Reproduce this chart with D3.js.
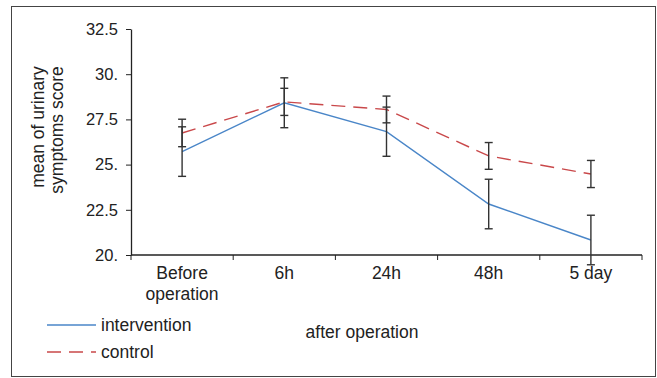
<!DOCTYPE html>
<html>
<head>
<meta charset="utf-8">
<script src="https://cdn.jsdelivr.net/npm/d3@7.9.0/dist/d3.min.js"></script>
<style>
  body { margin: 0; background: #fff; }
  svg { display: block; font-family: "Liberation Sans", Arial, sans-serif; }
</style>
</head>
<body>
<svg id="chart" width="657" height="378"></svg>
<script>
// chart data
const categories = ['Before operation', '6h', '24h', '48h', '5 day'];
const intervention = [25.72, 28.42, 26.82, 22.82, 20.83];
const interventionErr = [1.37, 1.38, 1.36, 1.37, 1.37];
const control = [26.75, 28.47, 28.05, 25.48, 24.48];
const controlErr = [0.76, 0.75, 0.74, 0.74, 0.75];
const yTicks = [20, 22.5, 25, 27.5, 30, 32.5];
const yTickLabels = ['20.', '22.5', '25.', '27.5', '30.', '32.5'];

const series = [
  { name: 'intervention', values: intervention, err: interventionErr, color: '#4a86c8', dash: null },
  { name: 'control', values: control, err: controlErr, color: '#c9484a', dash: '14,8' },
];

const textSize = '17.5px';
const tickSize = '16.5px';

const svg = d3.select('#chart');

// outer frame
svg.append('rect')
  .attr('x', 11.5).attr('y', 6.5)
  .attr('width', 644).attr('height', 370)
  .attr('fill', 'none')
  .attr('stroke', '#444')
  .attr('stroke-width', 1);

const margin = { left: 131, right: 642, top: 29, bottom: 255 };

const x = d3.scaleBand()
  .domain(categories)
  .range([margin.left, margin.right]);

const y = d3.scaleLinear()
  .domain([20, 32.5])
  .range([margin.bottom, margin.top]);

// y axis
const yAxis = svg.append('g')
  .attr('transform', `translate(${margin.left},0)`)
  .call(d3.axisLeft(y).tickValues(yTicks).tickFormat((d, i) => yTickLabels[i]).tickSize(5).tickSizeOuter(0));
yAxis.select('.domain').attr('stroke', '#222').attr('stroke-width', 1.3);
yAxis.selectAll('.tick line').attr('stroke', '#222');
yAxis.selectAll('.tick text')
  .attr('x', -13)
  .attr('fill', '#222')
  .style('font-size', tickSize)
  .style('font-family', '"Liberation Sans", Arial, sans-serif');

// x axis: ticks at band edges
const xAxis = svg.append('g')
  .attr('transform', `translate(0,${margin.bottom})`);
xAxis.append('line')
  .attr('x1', margin.left).attr('x2', margin.right)
  .attr('stroke', '#222').attr('stroke-width', 1.3);
const edges = categories.map((c) => x(c)).concat([x(categories[categories.length - 1]) + x.bandwidth()]);
xAxis.selectAll('line.edge')
  .data(edges)
  .enter()
  .append('line')
  .attr('class', 'edge')
  .attr('x1', (d) => d).attr('x2', (d) => d)
  .attr('y1', 0).attr('y2', 5)
  .attr('stroke', '#222');

// x labels (may wrap to two lines)
xAxis.selectAll('text.cat')
  .data(categories)
  .enter()
  .append('text')
  .attr('class', 'cat')
  .attr('text-anchor', 'middle')
  .attr('fill', '#222')
  .style('font-size', textSize)
  .each(function (d) {
    const words = d === 'Before operation' ? ['Before', 'operation'] : [d];
    const t = d3.select(this);
    words.forEach((w, i) => {
      t.append('tspan')
        .attr('x', x(d) + x.bandwidth() / 2)
        .attr('y', 24 + i * 21)
        .text(w);
    });
  });

// series lines
const line = d3.line()
  .x((d, i) => x(categories[i]) + x.bandwidth() / 2)
  .y((d) => y(d));

series.forEach((s) => {
  svg.append('path')
    .datum(s.values)
    .attr('d', line)
    .attr('fill', 'none')
    .attr('stroke', s.color)
    .attr('stroke-width', 1.4)
    .attr('stroke-dasharray', s.dash);
});

// error bars
series.forEach((s) => {
  const g = svg.append('g').attr('stroke', '#333').attr('stroke-width', 1.4);
  s.values.forEach((v, i) => {
    const cx = x(categories[i]) + x.bandwidth() / 2;
    const top = y(v + s.err[i]);
    const bot = y(v - s.err[i]);
    g.append('line').attr('x1', cx).attr('x2', cx).attr('y1', top).attr('y2', bot);
    g.append('line').attr('x1', cx - 4).attr('x2', cx + 4).attr('y1', top).attr('y2', top);
    g.append('line').attr('x1', cx - 4).attr('x2', cx + 4).attr('y1', bot).attr('y2', bot);
  });
});

// axis titles
svg.append('text')
  .attr('transform', 'translate(44,127) rotate(-90)')
  .attr('text-anchor', 'middle')
  .attr('fill', '#222')
  .style('font-size', textSize)
  .text('mean of urinary');
svg.append('text')
  .attr('transform', 'translate(63,130) rotate(-90)')
  .attr('text-anchor', 'middle')
  .attr('fill', '#222')
  .style('font-size', textSize)
  .text('symptoms score');

svg.append('text')
  .attr('x', 362).attr('y', 338)
  .attr('text-anchor', 'middle')
  .attr('fill', '#222')
  .style('font-size', textSize)
  .text('after operation');

// legend
const legend = svg.append('g');
series.forEach((s, i) => {
  const ly = 325 + i * 27;
  legend.append('line')
    .attr('x1', 47).attr('x2', 96)
    .attr('y1', ly).attr('y2', ly)
    .attr('stroke', s.color)
    .attr('stroke-width', 1.4)
    .attr('stroke-dasharray', s.dash);
  legend.append('text')
    .attr('x', 101).attr('y', ly + 6)
    .attr('fill', '#222')
    .style('font-size', textSize)
    .text(s.name);
});
</script>
</body>
</html>
